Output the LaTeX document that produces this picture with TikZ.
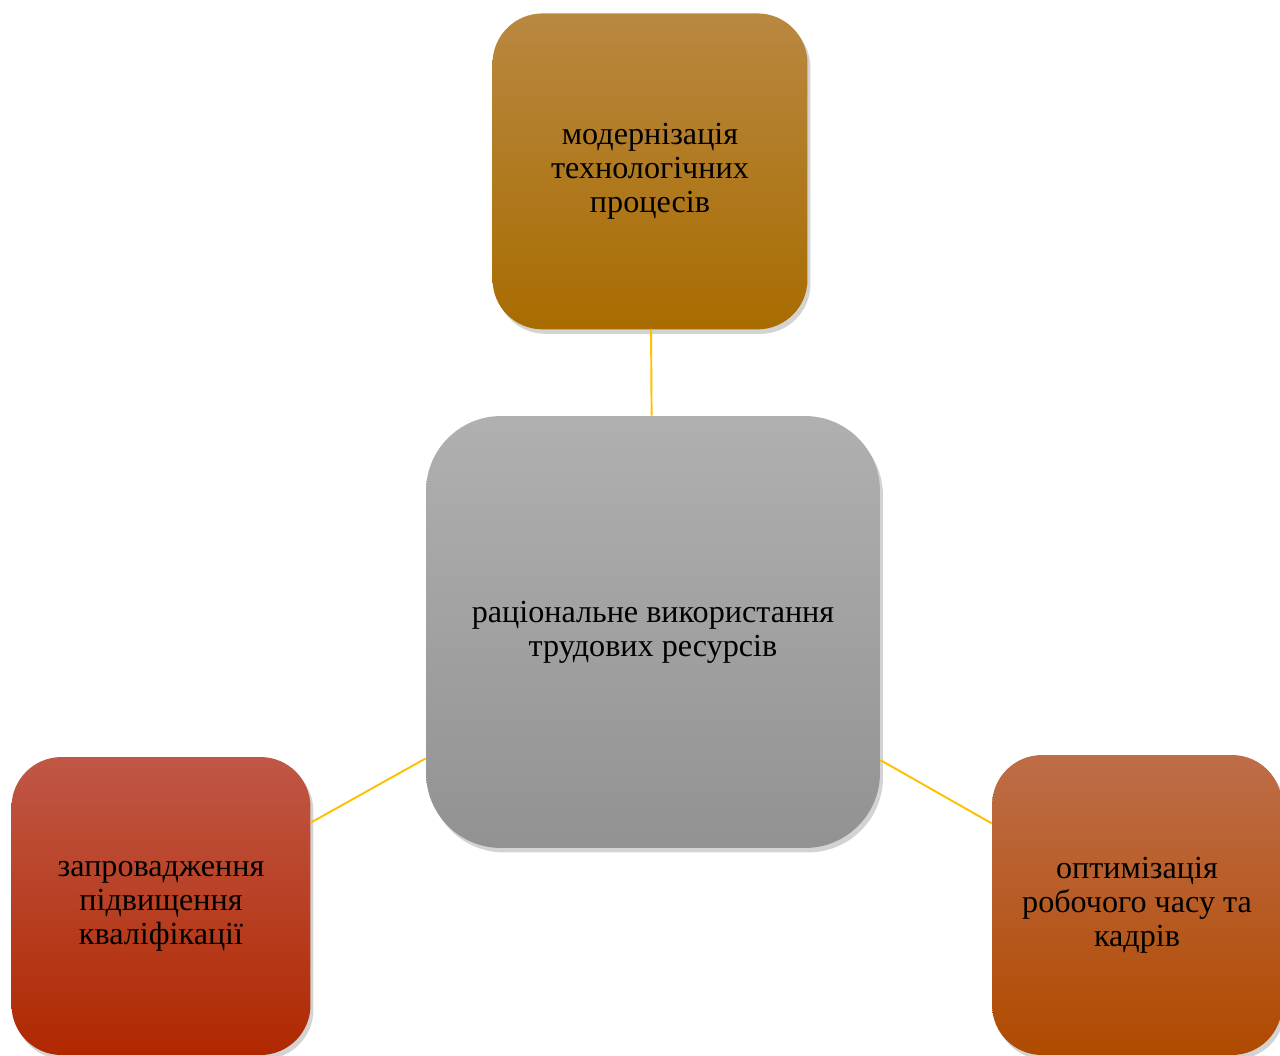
\documentclass[tikz,border=0pt]{standalone}
\usepackage{fontspec}
\setmainfont{Liberation Serif}
\usetikzlibrary{positioning, shadows}
\definecolor{linkgold}{HTML}{FFC000}
\definecolor{centretop}{HTML}{B0B0B0}
\definecolor{centrebot}{HTML}{929292}
\definecolor{techtop}{HTML}{B98841}
\definecolor{techbot}{HTML}{A86C00}
\definecolor{skilltop}{HTML}{C05746}
\definecolor{skillbot}{HTML}{B02800}
\definecolor{timetop}{HTML}{BE6D48}
\definecolor{timebot}{HTML}{B04A00}

\begin{document}
\begin{tikzpicture}[x=0.02cm, y=-0.02cm,
    every node/.style={font=\fontsize{18.3}{19.4}\selectfont},
    link/.style = {draw=linkgold, line width=1.1pt},
    box/.style = {rectangle, rounded corners=1cm, align=center,
                     drop shadow={opacity=0.35, shadow xshift=0.6mm, shadow yshift=-0.9mm}}
]
\useasboundingbox (0,0) rectangle (1280,1055);

\node (centre) [box, minimum width=9.08cm, minimum height=8.64cm, rounded corners=1.5cm,
    top color=centretop, bottom color=centrebot] at (653,632)
    {раціональне використання\\трудових ресурсів};

\node (tech) [box, above=1.72cm of centre, xshift=-0.06cm, minimum width=6.3cm, minimum height=6.32cm,
    top color=techtop, bottom color=techbot]
    {модернізація\\технологічних\\процесів};

\node (skill) [box, minimum width=5.98cm, minimum height=5.96cm,
    top color=skilltop, bottom color=skillbot] at (161,906)
    {запровадження\\підвищення\\кваліфікації};

\node (time) [box, minimum width=5.8cm, minimum height=6cm,
    top color=timetop, bottom color=timebot] at (1137,905)
    {оптимізація\\робочого часу та\\кадрів};

\draw[link] (centre) -- (tech);
\draw[link] (centre) -- (skill);
\draw[link] (centre) -- (time);

\end{tikzpicture}
\end{document}
